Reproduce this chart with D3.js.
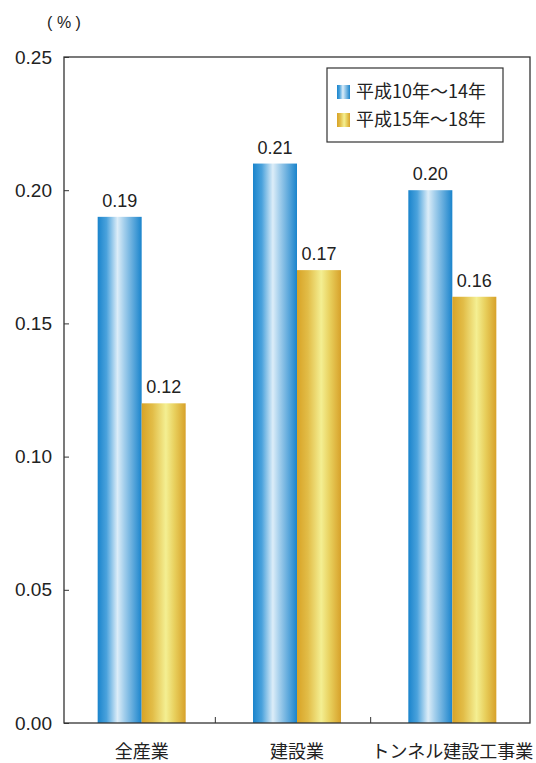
<!DOCTYPE html>
<html lang="ja">
<head>
<meta charset="UTF-8">
<title>Chart</title>
<script src="https://d3js.org/d3.v7.min.js"></script>
<style>
  body { margin: 0; background: #fff; }
  svg { display: block; font-family: "Liberation Sans", Arial, sans-serif; }
  .jp { font-family: "Noto Sans CJK JP", sans-serif; }
</style>
</head>
<body>
<svg id="chart" width="536" height="763"></svg>
<script>
  // Data
  const categories = ['全産業', '建設業', 'トンネル建設工事業'];
  const seriesNames = ['平成10年〜14年', '平成15年〜18年'];
  const seriesA = [0.19, 0.21, 0.20];
  const seriesB = [0.12, 0.17, 0.16];
  const yTicks = [0, 0.05, 0.10, 0.15, 0.20, 0.25];

  const svg = d3.select('#chart');
  const margin = { top: 57, right: 6, bottom: 40, left: 64 };
  const width = +svg.attr('width') - margin.left - margin.right;
  const height = +svg.attr('height') - margin.top - margin.bottom;

  const defs = svg.append('defs');
  const grads = [
    { id: 'gBlue', stops: [['0%', '#1a84cc'], ['20%', '#4aa2dc'], ['45%', '#dcedf8'], ['60%', '#a4cfec'], ['100%', '#1a84cc']] },
    { id: 'gGold', stops: [['0%', '#d8a326'], ['25%', '#e2bd48'], ['55%', '#f4ef92'], ['75%', '#e8cf5c'], ['100%', '#d7a12a']] }
  ];
  grads.forEach(gr => {
    const lg = defs.append('linearGradient').attr('id', gr.id)
      .attr('x1', '0%').attr('x2', '100%').attr('y1', '0%').attr('y2', '0%');
    gr.stops.forEach(s => lg.append('stop').attr('offset', s[0]).attr('stop-color', s[1]));
  });
  const fills = ['url(#gBlue)', 'url(#gGold)'];

  const g = svg.append('g').attr('transform', `translate(${margin.left},${margin.top})`);

  const x0 = d3.scaleBand().domain(categories).range([0, width]);
  const x1 = d3.scaleBand().domain([0, 1]).range([(x0.bandwidth() - 88) / 2, (x0.bandwidth() + 88) / 2]);
  const y = d3.scaleLinear().domain([0, 0.25]).range([height, 0]);

  const rows = categories.map((c, i) => ({ cat: c, vals: [seriesA[i], seriesB[i]] }));

  // bars
  const grp = g.selectAll('.grp').data(rows).enter().append('g')
    .attr('transform', d => `translate(${x0(d.cat)},0)`);
  grp.selectAll('rect').data(d => d.vals.map((v, k) => ({ v, k }))).enter().append('rect')
    .attr('x', d => x1(d.k))
    .attr('width', x1.bandwidth())
    .attr('y', d => y(d.v))
    .attr('height', d => height - y(d.v))
    .attr('fill', d => fills[d.k]);
  grp.selectAll('text').data(d => d.vals.map((v, k) => ({ v, k }))).enter().append('text')
    .attr('x', d => x1(d.k) + x1.bandwidth() / 2)
    .attr('y', d => y(d.v) - 10)
    .attr('text-anchor', 'middle')
    .attr('font-size', 18)
    .attr('fill', '#222')
    .text(d => d.v.toFixed(2));

  // frame
  g.append('rect').attr('x', 0).attr('y', 0).attr('width', width).attr('height', height)
    .attr('fill', 'none').attr('stroke', '#333').attr('stroke-width', 1.3);

  // y axis
  const yAxis = g.append('g')
    .call(d3.axisLeft(y).tickValues(yTicks).tickSize(-5).tickPadding(12).tickFormat(d3.format('.2f')));
  yAxis.select('.domain').remove();
  yAxis.selectAll('line').attr('stroke', '#333');
  yAxis.selectAll('text').attr('font-size', 19).attr('fill', '#222')
    .style('font-family', '"Liberation Sans", Arial, sans-serif');

  // category separators
  g.selectAll('.sep').data(categories.slice(1)).enter().append('line')
    .attr('x1', d => x0(d) - 4).attr('x2', d => x0(d) - 4)
    .attr('y1', height).attr('y2', height - 6)
    .attr('stroke', '#333');

  // x labels
  g.selectAll('.xl').data(categories).enter().append('text')
    .attr('class', 'jp')
    .attr('x', d => x0(d) + x0.bandwidth() / 2)
    .attr('y', height + 35)
    .attr('text-anchor', 'middle')
    .attr('font-size', 18)
    .attr('fill', '#222')
    .text(d => d);

  // unit
  svg.append('text').attr('x', 64).attr('y', 28).attr('text-anchor', 'middle')
    .attr('font-size', 16).attr('fill', '#222').text('( % )');

  // legend
  const lg = svg.append('g').attr('transform', 'translate(327,68)');
  lg.append('rect').attr('width', 176).attr('height', 74)
    .attr('fill', '#fff').attr('stroke', '#333').attr('stroke-width', 1.2);
  seriesNames.forEach((s, i) => {
    const row = lg.append('g').attr('transform', `translate(10,${24 + i * 28})`);
    row.append('rect').attr('x', 0).attr('y', -7).attr('width', 13).attr('height', 14).attr('fill', fills[i]);
    row.append('text').attr('class', 'jp').attr('x', 19).attr('y', 6)
      .attr('font-size', 18).attr('fill', '#222').text(s);
  });
</script>
</body>
</html>
